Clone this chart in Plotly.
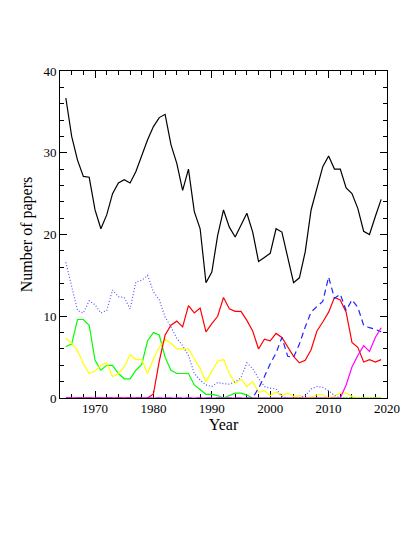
import plotly.graph_objects as go

# Years covered by every series
years = list(range(1965, 2020))

# Number of papers per year, one list per line on the chart
total = [36.7, 32.0, 29.1, 27.1, 27.0, 23.0, 20.7, 22.4, 25.0, 26.3,
         26.7, 26.3, 27.7, 29.7, 31.6, 33.2, 34.3, 34.7, 31.0, 28.7,
         25.4, 28.0, 22.8, 20.7, 14.1, 15.4, 19.9, 23.0, 20.9, 19.7,
         21.1, 22.6, 20.3, 16.7, 17.2, 17.7, 20.7, 20.3, 17.2, 14.1,
         14.7, 17.9, 23.0, 25.8, 28.3, 29.6, 28.0, 28.0, 25.7, 25.0,
         23.2, 20.4, 20.0, 22.2, 24.3]

dotted_blue = [16.6, 13.7, 10.7, 10.4, 11.9, 11.4, 10.4, 10.7, 13.2, 12.4,
               12.3, 10.9, 14.2, 14.4, 15.0, 13.0, 12.0, 9.9, 8.7, 7.3,
               6.4, 5.2, 3.0, 2.2, 1.6, 1.4, 1.9, 1.75, 1.7, 2.0,
               2.5, 4.3, 3.6, 2.4, 1.4, 1.2, 1.1, 0.2, 0.0, 0.0,
               0.0, 0.3, 1.1, 1.4, 1.3, 0.9, 0.3, 0.0, 0.0, 0.0,
               0.0, 0.0, 0.0, 0.0, 0.0]

dashed_blue = [0.0, 0.0, 0.0, 0.0, 0.0, 0.0, 0.0, 0.0, 0.0, 0.0,
               0.0, 0.0, 0.0, 0.0, 0.0, 0.0, 0.0, 0.0, 0.0, 0.0,
               0.0, 0.0, 0.0, 0.0, 0.0, 0.0, 0.0, 0.0, 0.0, 0.0,
               0.0, 0.0, 0.0, 1.2, 2.6, 4.2, 5.5, 7.4, 5.1, 5.0,
               6.6, 8.7, 10.5, 11.2, 11.8, 14.8, 12.2, 12.7, 10.7, 12.0,
               11.1, 8.9, 8.6, 8.4, 8.1]

red = [0.0, 0.0, 0.0, 0.0, 0.0, 0.0, 0.0, 0.0, 0.0, 0.0,
       0.0, 0.0, 0.0, 0.0, 0.0, 0.5, 4.5, 7.7, 8.9, 9.4,
       8.7, 11.3, 10.4, 11.0, 8.1, 9.1, 10.0, 12.3, 10.9, 10.6,
       10.6, 9.5, 8.2, 6.0, 7.2, 7.0, 7.9, 7.4, 6.3, 5.1,
       4.3, 4.6, 5.9, 8.2, 9.3, 10.5, 12.3, 12.0, 10.5, 6.8,
       6.2, 4.4, 4.7, 4.4, 4.7]

green = [6.3, 6.6, 9.6, 9.6, 8.9, 4.6, 3.4, 4.0, 4.0, 3.0,
         2.35, 2.35, 3.4, 4.1, 7.0, 8.0, 7.7, 5.0, 3.4, 3.0,
         3.0, 3.0, 1.6, 1.0, 0.45, 0.45, 0.3, 0.0, 0.3, 0.6,
         0.6, 0.35, 0.0, 0.0, 0.0, 0.0, 0.0, 0.0, 0.0, 0.0,
         0.0, 0.0, 0.0, 0.0, 0.0, 0.0, 0.0, 0.0, 0.0, 0.0,
         0.0, 0.0, 0.0, 0.0, 0.0]

yellow = [7.3, 6.7, 5.8, 4.2, 3.0, 3.3, 4.0, 4.3, 2.6, 3.0,
          3.8, 5.3, 4.7, 4.7, 3.0, 4.8, 6.2, 7.2, 6.7, 6.0,
          6.0, 6.0, 4.8, 3.6, 2.0, 3.2, 4.5, 4.7, 3.0, 1.8,
          2.3, 1.4, 2.0, 0.7, 0.9, 0.3, 0.7, 0.3, 0.6, 0.2,
          0.3, 0.0, 0.1, 0.4, 0.4, 0.0, 0.3, 0.6, 0.6, 0.2,
          0.0, 0.0, 0.0, 0.0, 0.0]

magenta = [0.0, 0.0, 0.0, 0.0, 0.0, 0.0, 0.0, 0.0, 0.0, 0.0,
           0.0, 0.0, 0.0, 0.0, 0.0, 0.0, 0.0, 0.0, 0.0, 0.0,
           0.0, 0.0, 0.0, 0.0, 0.0, 0.0, 0.0, 0.0, 0.0, 0.0,
           0.0, 0.0, 0.0, 0.0, 0.0, 0.0, 0.0, 0.0, 0.0, 0.0,
           0.0, 0.0, 0.0, 0.0, 0.0, 0.0, 0.0, 0.0, 1.6, 3.8,
           5.2, 6.4, 5.7, 7.4, 8.6]

# (values, colour, dash) in drawing order
series = [
    (total, '#000000', 'solid'),
    (green, '#00ff00', 'solid'),
    (yellow, '#ffff00', 'solid'),
    (red, '#ff0000', 'solid'),
    (dotted_blue, '#5555ff', '1px,2px'),
    (dashed_blue, '#2222ff', '6px,4px'),
    (magenta, '#ff00ff', 'solid'),
]

fig = go.Figure()

for values, colour, dash in series:
    fig.add_trace(go.Scatter(
        x=years,
        y=values,
        mode='lines',
        line=dict(color=colour, width=1.2, dash=dash),
        showlegend=False,
    ))

axis_font = dict(family='Liberation Serif', size=13, color='black')
title_font = dict(family='Liberation Serif', size=16, color='black')

# Common tick style, used for the labelled axes and the mirrored top/right ones
tick_style = dict(
    ticks='inside',
    ticklen=7,
    tickcolor='black',
    minor=dict(dtick=2, ticks='inside', ticklen=4, tickcolor='black'),
    showgrid=False,
    zeroline=False,
    showline=True,
    linecolor='black',
    linewidth=1,
    layer='below traces',
)

# The page body adds an 8px offset, so the figure is a bit smaller
fig.update_layout(
    width=407,
    height=529,
    margin=dict(l=52, r=28, t=63, b=139),
    paper_bgcolor='white',
    plot_bgcolor='white',
    xaxis=dict(
        range=[1964, 2020],
        tick0=1960,
        dtick=10,
        tickfont=axis_font,
        ticklabelstandoff=-2,
        title=dict(text='Year', font=title_font, standoff=0),
        **tick_style,
    ),
    yaxis=dict(
        range=[0, 40],
        tick0=0,
        dtick=10,
        tickfont=axis_font,
        title=dict(text='Number of papers', font=title_font, standoff=6),
        **tick_style,
    ),
    xaxis2=dict(
        range=[1964, 2020],
        tick0=1960,
        dtick=10,
        overlaying='x',
        side='top',
        showticklabels=False,
        **tick_style,
    ),
    yaxis2=dict(
        range=[0, 40],
        tick0=0,
        dtick=10,
        overlaying='y',
        side='right',
        showticklabels=False,
        **tick_style,
    ),
)

# Invisible trace so the top and right axes are drawn
fig.add_trace(go.Scatter(
    x=[years[0]],
    y=[total[0]],
    xaxis='x2',
    yaxis='y2',
    mode='markers',
    marker=dict(opacity=0),
    showlegend=False,
    hoverinfo='skip',
))

fig.write_html("out.html")
